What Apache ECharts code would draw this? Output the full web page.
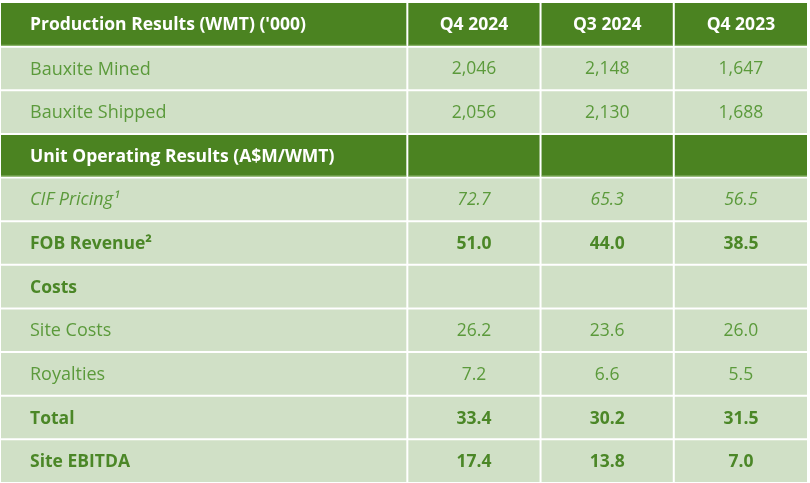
<!DOCTYPE html>
<html>
<head>
<meta charset="utf-8">
<script src="https://cdn.jsdelivr.net/npm/echarts@6/dist/echarts.min.js"></script>
<style>
html,body{margin:0;padding:0;background:#ffffff;}
#chart{width:810px;height:483px;}
</style>
</head>
<body>
<div id="chart"></div>
<script>
// ---- data ----
var columnHeaders = ['Production Results (WMT) (\'000)', 'Q4 2024', 'Q3 2024', 'Q4 2023'];
var rowLabels = [
  'Production Results (WMT) (\'000)',
  'Bauxite Mined',
  'Bauxite Shipped',
  'Unit Operating Results (A$M/WMT)',
  'CIF Pricing\u00B9',
  'FOB Revenue\u00B2',
  'Costs',
  'Site Costs',
  'Royalties',
  'Total',
  'Site EBITDA'
];
var rowTypes = ['header', 'normal', 'normal', 'header', 'italic', 'bold', 'bold', 'normal', 'normal', 'bold', 'bold'];
var rowFormats = ['text', 'int', 'int', 'text', 'dec', 'dec', 'dec', 'dec', 'dec', 'dec', 'dec'];
var q4_2024 = [null, 2046, 2056, null, 72.7, 51.0, null, 26.2, 7.2, 33.4, 17.4];
var q3_2024 = [null, 2148, 2130, null, 65.3, 44.0, null, 23.6, 6.6, 30.2, 13.8];
var q4_2023 = [null, 1647, 1688, null, 56.5, 38.5, null, 26.0, 5.5, 31.5, 7.0];
var columnValues = [q4_2024, q3_2024, q4_2023];
// column spans on the x value axis (label column is ~3 units wide)
var colStart = [0, 3.05, 4.05, 5.05];
var colEnd = [3.05, 4.05, 5.05, 6.05];

// ---- build cells ----
function fmt(v, f) {
  if (v === null || v === undefined) return '';
  if (f === 'int') return v.toLocaleString('en-US');
  if (f === 'dec') return v.toFixed(1);
  return String(v);
}
var cells = [];
for (var r = 0; r < rowLabels.length; r++) {
  cells.push([0, r, rowLabels[r]]);
  for (var c = 0; c < columnValues.length; c++) {
    var txt = (r === 0) ? columnHeaders[c + 1] : fmt(columnValues[c][r], rowFormats[r]);
    cells.push([c + 1, r, txt]);
  }
}

var HEADER_BG = '#4b8321';
var BODY_BG = '#d0e0c6';
var TEXT_NORMAL = '#5b9a3b';
var TEXT_BOLD = '#4b8727';
var FONT = '"Open Sans", Lato, sans-serif';

var chart = echarts.init(document.getElementById('chart'), null, {renderer: 'canvas'});
chart.setOption({
  animation: false,
  backgroundColor: '#ffffff',
  grid: {left: 1, right: 3, top: 3, bottom: 0},
  xAxis: {type: 'value', min: 0, max: 6.05, show: false},
  yAxis: {type: 'category', data: rowLabels, inverse: true, show: false},
  series: [{
    type: 'custom',
    data: cells,
    encode: {x: 0, y: 1},
    renderItem: function (params, api) {
      var col = api.value(0);
      var row = api.value(1);
      var text = cells[params.dataIndex][2];
      var p0 = api.coord([colStart[col], row]);
      var p1 = api.coord([colEnd[col], row]);
      var h = api.size([0, 1])[1];
      var x0 = p0[0] + (col === 0 ? 0 : 1);
      var x1 = p1[0] - (col === 3 ? 0 : 1);
      var y0 = p0[1] - h / 2 + (row === 0 ? 0 : 1);
      var y1 = p0[1] + h / 2 - 1;
      var type = rowTypes[row];
      var isHeader = type === 'header';
      var isBold = isHeader || type === 'bold';
      var color = isHeader ? '#ffffff' : (type === 'bold' ? TEXT_BOLD : TEXT_NORMAL);
      var style = (type === 'italic') ? 'italic' : 'normal';
      var size = isBold ? 17.5 : (col === 0 ? 18 : 17.5);
      var children = [{
        type: 'rect',
        shape: {x: x0, y: y0, width: x1 - x0, height: y1 - y0},
        style: {fill: isHeader ? HEADER_BG : BODY_BG}
      }];
      if (isHeader) {
        children.push({
          type: 'rect',
          shape: {x: x0, y: y1 - 1, width: x1 - x0, height: 1},
          style: {fill: '#8fb870'}
        });
      }
      children.push({
        type: 'text',
        style: {
          text: text,
          x: col === 0 ? x0 + 29 : (x0 + x1) / 2,
          y: (y0 + y1) / 2 + 1,
          align: col === 0 ? 'left' : 'center',
          verticalAlign: 'middle',
          fill: color,
          fontFamily: FONT,
          fontSize: size,
          fontWeight: isBold ? 'bold' : 'normal',
          fontStyle: style
        }
      });
      return {type: 'group', children: children};
    }
  }]
});
</script>
</body>
</html>
